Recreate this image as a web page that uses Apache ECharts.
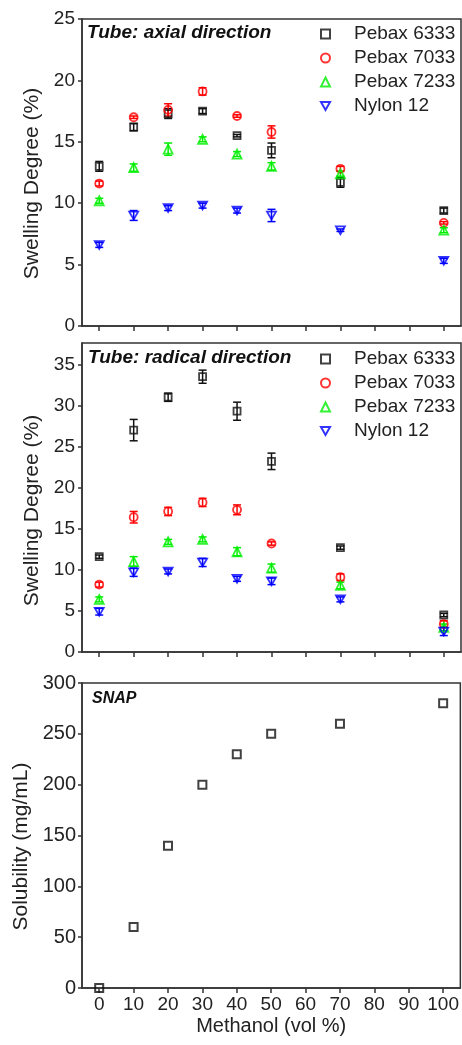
<!DOCTYPE html>
<html>
<head>
<meta charset="utf-8">
<script src="https://cdn.jsdelivr.net/npm/echarts@6/dist/echarts.min.js"></script>
<style>
  html, body { margin: 0; padding: 0; background: #fff; }
  #chart { width: 462px; height: 1045px; }
</style>
</head>
<body>
<div id="chart"></div>
<script>
// ---------------- DATA ----------------
const methanol = [0, 10, 20, 30, 40, 50, 70, 100];
const xTicks = [0, 10, 20, 30, 40, 50, 60, 70, 80, 90, 100];
const yTicksRadial = [0, 5, 10, 15, 20, 25, 30, 35];
const seriesNames = ['Pebax 6333', 'Pebax 7033', 'Pebax 7233', 'Nylon 12'];

// Tube: axial direction (swelling degree %, with ± error)
const axial6333 = [13.0, 16.2, 17.3, 17.5, 15.5, 14.3, 11.7, 9.4];
const axial6333Err = [0.4, 0.3, 0.4, 0.2, 0.1, 0.6, 0.4, 0.2];
const axial7033 = [11.6, 17.0, 17.6, 19.1, 17.1, 15.8, 12.8, 8.4];
const axial7033Err = [0.2, 0.1, 0.5, 0.3, 0.1, 0.5, 0.2, 0.1];
const axial7233 = [10.2, 12.9, 14.4, 15.2, 14.0, 13.0, 12.4, 7.8];
const axial7233Err = [0.2, 0.3, 0.5, 0.2, 0.2, 0.3, 0.2, 0.2];
const axialNylon = [6.6, 9.0, 9.6, 9.8, 9.4, 9.0, 7.8, 5.3];
const axialNylonErr = [0.2, 0.4, 0.2, 0.2, 0.2, 0.5, 0.1, 0.2];

// Tube: radical direction
const radial6333 = [11.6, 27.0, 31.0, 33.5, 29.3, 23.2, 12.7, 4.5];
const radial6333Err = [0.2, 1.3, 0.5, 0.8, 1.1, 1.0, 0.2, 0.2];
const radial7033 = [8.2, 16.4, 17.1, 18.2, 17.3, 13.2, 9.1, 3.4];
const radial7033Err = [0.3, 0.7, 0.5, 0.5, 0.6, 0.2, 0.4, 0.4];
const radial7233 = [6.4, 11.0, 13.4, 13.7, 12.2, 10.2, 8.1, 3.0];
const radial7233Err = [0.3, 0.6, 0.3, 0.3, 0.5, 0.5, 0.4, 0.4];
const radialNylon = [4.9, 9.7, 9.8, 10.9, 8.9, 8.6, 6.4, 2.5];
const radialNylonErr = [0.4, 0.5, 0.3, 0.5, 0.3, 0.4, 0.3, 0.5];

// SNAP solubility (mg/mL)
const snapSolubility = [0, 60, 140, 200, 230, 250, 260, 280];

// ---------------- STYLE ----------------
const colors = ['#111111', '#ff0000', '#00ee00', '#0000ff'];
const symbols = ['rect', 'circle', 'triangle', 'path://M0,0L20,0L10,17.32Z'];
const symbolSizes = [7, 8, 9, 9];
const axisColor = '#333';
const textColor = '#222';
const FONT = 'Liberation Sans, Arial, sans-serif';

function errRender(params, api) {
  const x = api.value(0), y = api.value(1), e = api.value(2);
  const top = api.coord([x, y + e]);
  const bot = api.coord([x, y - e]);
  const hw = 4;
  const style = { stroke: api.visual('color'), lineWidth: 1.5, fill: null };
  return {
    type: 'group',
    children: [
      { type: 'line', shape: { x1: top[0], y1: top[1], x2: bot[0], y2: bot[1] }, style },
      { type: 'line', shape: { x1: top[0] - hw, y1: top[1], x2: top[0] + hw, y2: top[1] }, style },
      { type: 'line', shape: { x1: bot[0] - hw, y1: bot[1], x2: bot[0] + hw, y2: bot[1] }, style }
    ]
  };
}

const grids = [
  { left: 82, top: 19, width: 379, height: 307 },
  { left: 82, top: 343, width: 379, height: 309 },
  { left: 82, top: 683, width: 379, height: 305 }
].map(g => Object.assign(g, { show: true, borderColor: axisColor, borderWidth: 1.5, backgroundColor: 'transparent', containLabel: false }));

const axisLineStyle = { color: axisColor, width: 1.5 };

const xAxes = [0, 1, 2].map(i => ({
  type: 'value', gridIndex: i, min: -5, max: 105,
  axisLine: { show: true, onZero: false, lineStyle: axisLineStyle },
  axisTick: { show: true, inside: false, length: 5, lineStyle: axisLineStyle, customValues: xTicks },
  axisLabel: { show: i === 2, customValues: xTicks, fontSize: 19, color: textColor, fontFamily: FONT, margin: 7 },
  splitLine: { show: false },
  name: i === 2 ? 'Methanol (vol %)' : '',
  nameLocation: 'middle', nameGap: 28,
  nameTextStyle: { fontSize: 20, color: textColor, fontFamily: FONT }
}));

const yCommon = (extra) => Object.assign({
  type: 'value', min: 0,
  axisLine: { show: true, onZero: false, lineStyle: axisLineStyle },
  axisTick: { show: true, inside: false, length: 4, lineStyle: axisLineStyle },
  splitLine: { show: false },
  nameLocation: 'middle'
}, extra);

const yAxes = [
  yCommon({
    gridIndex: 0, max: 25, interval: 5,
    axisLabel: { fontSize: 19, color: textColor, fontFamily: FONT, margin: 7 },
    name: 'Swelling Degree (%)', nameGap: 37,
    nameTextStyle: { fontSize: 21, color: textColor, fontFamily: FONT, padding: [0, 22, 0, 0] }
  }),
  yCommon({
    gridIndex: 1, max: 37.6,
    axisTick: { show: true, inside: false, length: 4, lineStyle: axisLineStyle, customValues: yTicksRadial },
    axisLabel: { fontSize: 19, color: textColor, fontFamily: FONT, margin: 7, customValues: yTicksRadial },
    name: 'Swelling Degree (%)', nameGap: 37,
    nameTextStyle: { fontSize: 21, color: textColor, fontFamily: FONT, padding: [0, 26, 0, 0] }
  }),
  yCommon({
    gridIndex: 2, max: 300, interval: 50,
    axisLabel: { fontSize: 20, color: textColor, fontFamily: FONT, margin: 6 },
    name: 'Solubility (mg/mL)', nameGap: 46,
    nameTextStyle: { fontSize: 21, color: textColor, fontFamily: FONT, padding: [0, 22, 0, 0] }
  })
];

const panelData = [
  { vals: [axial6333, axial7033, axial7233, axialNylon], errs: [axial6333Err, axial7033Err, axial7233Err, axialNylonErr] },
  { vals: [radial6333, radial7033, radial7233, radialNylon], errs: [radial6333Err, radial7033Err, radial7233Err, radialNylonErr] }
];

const series = [];
panelData.forEach((p, pi) => {
  p.vals.forEach((vals, si) => {
    series.push({
      type: 'custom', name: 'err' + pi + si, xAxisIndex: pi, yAxisIndex: pi,
      renderItem: errRender, silent: true, z: 2,
      itemStyle: { color: colors[si] },
      encode: { x: 0, y: 1 },
      data: methanol.map((x, i) => [x, vals[i], p.errs[si][i]])
    });
    series.push({
      type: 'scatter', name: seriesNames[si], xAxisIndex: pi, yAxisIndex: pi, z: 3,
      symbol: symbols[si], symbolSize: symbolSizes[si], symbolKeepAspect: true,
      itemStyle: { color: 'rgba(255,255,255,0)', borderColor: colors[si], borderWidth: 1.8 },
      emphasis: { disabled: true },
      data: methanol.map((x, i) => [x, vals[i]])
    });
  });
});
series.push({
  type: 'scatter', name: 'SNAP', xAxisIndex: 2, yAxisIndex: 2, z: 3,
  symbol: 'rect', symbolSize: 8,
  itemStyle: { color: 'rgba(255,255,255,0)', borderColor: '#111', borderWidth: 2 },
  data: methanol.map((x, i) => [x, snapSolubility[i]])
});

const legendCommon = {
  orient: 'vertical', left: 320, itemWidth: 9, itemHeight: 9, itemGap: 4,
  selectedMode: false, padding: 0, symbolKeepAspect: true,
  data: seriesNames.map((n, i) => ({ name: n, icon: symbols[i] })),
  textStyle: { fontSize: 19, color: textColor, fontFamily: FONT, lineHeight: 20, padding: [0, 0, 0, 19] }
};

const titleStyle = { fontStyle: 'italic', fontWeight: 'bold', color: '#111', fontFamily: FONT };

const chart = echarts.init(document.getElementById('chart'), null, { renderer: 'canvas' });
chart.setOption({
  animation: false,
  backgroundColor: '#fff',
  title: [
    { text: 'Tube: axial direction', left: 87, top: 23, padding: 0, textStyle: Object.assign({ fontSize: 19, lineHeight: 20 }, titleStyle) },
    { text: 'Tube: radical direction', left: 88, top: 348, padding: 0, textStyle: Object.assign({ fontSize: 19, lineHeight: 20 }, titleStyle) },
    { text: 'SNAP', left: 92, top: 691, padding: 0, textStyle: Object.assign({ fontSize: 16, lineHeight: 16 }, titleStyle) }
  ],
  legend: [
    Object.assign({ top: 24 }, legendCommon),
    Object.assign({ top: 349 }, legendCommon)
  ],
  grid: grids,
  xAxis: xAxes,
  yAxis: yAxes,
  series: series
});
</script>
</body>
</html>
